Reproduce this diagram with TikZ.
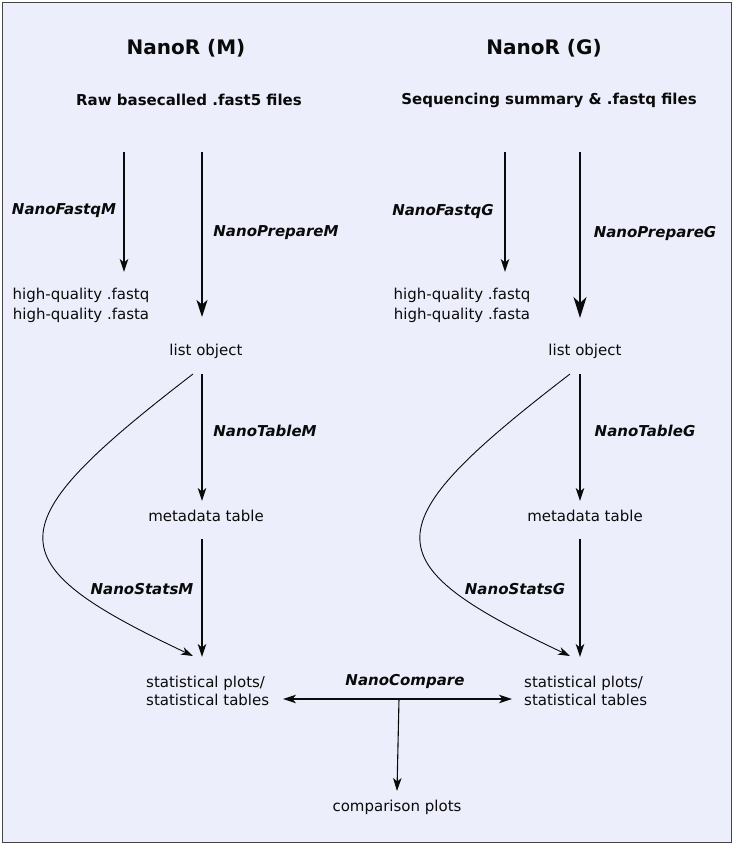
\documentclass[tikz,border=0pt]{standalone}
\usepackage{fontspec}
\setmainfont{DejaVu Sans}
\usetikzlibrary{arrows.meta}
\definecolor{bgc}{HTML}{ECEEFB}
\definecolor{ink}{HTML}{0A0A0A}
\definecolor{frame}{HTML}{444444}
\begin{document}
\begin{tikzpicture}[x=1pt,y=-1pt,
  txt/.style={font=\fontsize{15}{18}\selectfont, text=ink, inner sep=0pt, align=center},
  ttl/.style={font=\fontsize{20}{24}\selectfont\bfseries, text=ink, inner sep=0pt},
  sub/.style={font=\fontsize{15}{18}\selectfont\bfseries, text=ink, inner sep=0pt},
  fn/.style={font=\fontsize{15}{18}\selectfont\bfseries\itshape, text=ink, inner sep=0pt},
  arr/.style={draw=ink, line width=1.1pt, -{Stealth[length=13pt,width=8.5pt,inset=3.5pt]}},
  arrbig/.style={draw=ink, line width=1.2pt, -{Stealth[length=17pt,width=11pt,inset=4.5pt]}},
  arrhuge/.style={draw=ink, line width=1.6pt, -{Stealth[length=21pt,width=13pt,inset=6pt]}},
  crv/.style={draw=ink, line width=0.9pt, -{Stealth[length=12pt,width=8pt,inset=3.5pt]}}
]
\useasboundingbox (0,0) rectangle (733,844);
\draw[fill=bgc, draw=frame, line width=1pt] (2,2) rectangle (731,842);

% titles
\node[ttl] (tM) at (186,48) {NanoR (M)};
\node[ttl] (tG) at (544,48) {NanoR (G)};
\node[sub] (inM) at (189,100) {Raw basecalled .fast5 files};
\node[sub] (inG) at (549,100) {Sequencing summary \& .fastq files};

% outputs
\node[txt, font=\fontsize{15}{20}\selectfont] (hqM) at (81,305) {high-quality .fastq\\high-quality .fasta};
\node[txt, font=\fontsize{15}{20}\selectfont] (hqG) at (462,305) {high-quality .fastq\\high-quality .fasta};
\node[txt] (loM) at (206,351) {list object};
\node[txt] (loG) at (585,351) {list object};
\node[txt] (mtM) at (206,516) {metadata table};
\node[txt] (mtG) at (585,516) {metadata table};
\node[txt, align=left, anchor=west] (stM) at (146,691) {statistical plots/\\statistical tables};
\node[txt, align=left, anchor=west] (stG) at (524,691) {statistical plots/\\statistical tables};
\node[txt] (cmp) at (397,807) {comparison plots};

% function labels
\node[fn] (fqM) at (64,211) {NanoFastqM};
\node[fn] (prM) at (276,233) {NanoPrepareM};
\node[fn] (fqG) at (443,211) {NanoFastqG};
\node[fn] (prG) at (655,233) {NanoPrepareG};
\node[fn] (tbM) at (265,431) {NanoTableM};
\node[fn] (tbG) at (645,431) {NanoTableG};
\node[fn] (ssM) at (142,589) {NanoStatsM};
\node[fn] (ssG) at (515,589) {NanoStatsG};
\node[fn] (ncl) at (405,681) {NanoCompare};

% connector end points
\coordinate (fqMs) at (124,152); \coordinate (fqMe) at (124,272);
\coordinate (prMs) at (202,152); \coordinate (prMe) at (202,317);
\coordinate (fqGs) at (505,152); \coordinate (fqGe) at (505,272);
\coordinate (prGs) at (580,152); \coordinate (prGe) at (580,318);
\coordinate (tbMs) at (202,374); \coordinate (tbMe) at (202,501);
\coordinate (tbGs) at (580,374); \coordinate (tbGe) at (580,501);
\coordinate (ssMs) at (202,539); \coordinate (ssMe) at (202,657);
\coordinate (ssGs) at (580,539); \coordinate (ssGe) at (580,657);
\coordinate (cvMs) at (193,374); \coordinate (cvMe) at (193,656);
\coordinate (cvGs) at (570,374); \coordinate (cvGe) at (570,656);
\coordinate (jn) at (399,699);
\coordinate (ncL) at (283,699); \coordinate (ncR) at (512,699);
\coordinate (ncD) at (397,791);

\draw[arr] (fqMs) -- (fqMe);
\draw[arrbig] (prMs) -- (prMe);
\draw[arr] (fqGs) -- (fqGe);
\draw[arrhuge] (prGs) -- (prGe);
\draw[arr] (tbMs) -- (tbMe);
\draw[arr] (tbGs) -- (tbGe);
\draw[arr] (ssMs) -- (ssMe);
\draw[arr] (ssGs) -- (ssGe);
\draw[crv] (cvMs) .. controls (-6,527) and (-6,562) .. (cvMe);
\draw[crv] (cvGs) .. controls (371,527) and (371,562) .. (cvGe);
\draw[arr] (jn) -- (ncL);
\draw[arr] (jn) -- (ncR);
\draw[arr] (jn) -- (ncD);
\end{tikzpicture}
\end{document}
